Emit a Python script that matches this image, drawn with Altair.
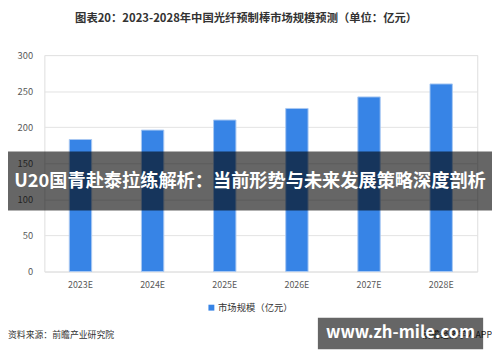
import altair as alt
import pandas as pd

years = ["2023E", "2024E", "2025E", "2026E", "2027E", "2028E"]
values = [183, 196, 210, 226, 242, 260]
series = "市场规模（亿元）"
title_text = "图表20：2023-2028年中国光纤预制棒市场规模预测（单位：亿元）"
source_text = "资料来源：前瞻产业研究院"
banner_text = "U20国青赴泰拉练解析：当前形势与未来发展策略深度剖析"
site_text = "www.zh-mile.com"
app_text = "前瞻经济学人APP"

FONT = "Noto Sans CJK SC"
W, H = 440, 220

df = pd.DataFrame({"year": years, "value": values, "series": [series] * len(years)})
one = pd.DataFrame({"a": [0]})

bars = alt.Chart(df).mark_bar(stroke="#a8c8f2", strokeWidth=1).encode(
    x=alt.X("year:N", sort=years, title=None,
            scale=alt.Scale(paddingInner=0.69, paddingOuter=0.345),
            axis=alt.Axis(labelAngle=0, ticks=False, domain=False, labelPadding=9,
                          labelFontSize=9, labelColor="#595959", labelFont=FONT)),
    y=alt.Y("value:Q", title=None,
            scale=alt.Scale(domain=[0, 300]),
            axis=alt.Axis(values=[0, 50, 100, 150, 200, 250, 300], ticks=False, domain=False,
                          labelPadding=12, labelFontSize=9.5, labelColor="#595959",
                          labelFont=FONT, gridColor="#e2e2e2", gridWidth=1)),
    color=alt.Color("series:N", title=None,
                    scale=alt.Scale(domain=[series], range=["#3784e6"]),
                    legend=alt.Legend(orient="none", legendX=165, legendY=252,
                                      symbolType="square", symbolSize=36,
                                      symbolStrokeWidth=0, labelFontSize=9.5,
                                      labelColor="#333333", labelFont=FONT,
                                      labelOffset=2)),
)

title = alt.Chart(one).mark_text(font=FONT, fontSize=11.5, fontWeight="bold",
                                 color="#333333", align="center", baseline="middle").encode(
    x=alt.value(205), y=alt.value(-37), text=alt.value(title_text))

source = alt.Chart(one).mark_text(font=FONT, fontSize=9, color="#333333",
                                  align="left", baseline="middle").encode(
    x=alt.value(-37), y=alt.value(285), text=alt.value(source_text))

app = alt.Chart(one).mark_text(font=FONT, fontSize=9, color="#333333",
                               align="right", baseline="middle").encode(
    x=alt.value(455), y=alt.value(285), text=alt.value(app_text))

banner = alt.Chart(one).mark_rect(color="black", opacity=0.6).encode(
    x=alt.value(-40), x2=alt.value(460), y=alt.value(98), y2=alt.value(158))

banner_t = alt.Chart(one).mark_text(font=FONT, fontSize=18.5, fontWeight="bold",
                                    color="white", align="center", baseline="middle").encode(
    x=alt.value(209), y=alt.value(128), text=alt.value(banner_text))

box = alt.Chart(one).mark_rect(color="black", opacity=0.6).encode(
    x=alt.value(278), x2=alt.value(446), y=alt.value(267), y2=alt.value(299))

box_t = alt.Chart(one).mark_text(font=FONT, fontSize=17, fontWeight="bold",
                                 color="white", align="center", baseline="middle").encode(
    x=alt.value(362), y=alt.value(283), text=alt.value(site_text))

chart = alt.layer(bars, title, source, app, banner, banner_t, box, box_t).properties(
    width=W, height=H,
    autosize=alt.AutoSizeParams(type="none"),
    padding={"left": 37, "top": 45, "right": 15, "bottom": 81},
).configure_view(stroke=None).configure(background="white")

chart.save("out.html", embed_options={"renderer": "svg", "actions": False})
